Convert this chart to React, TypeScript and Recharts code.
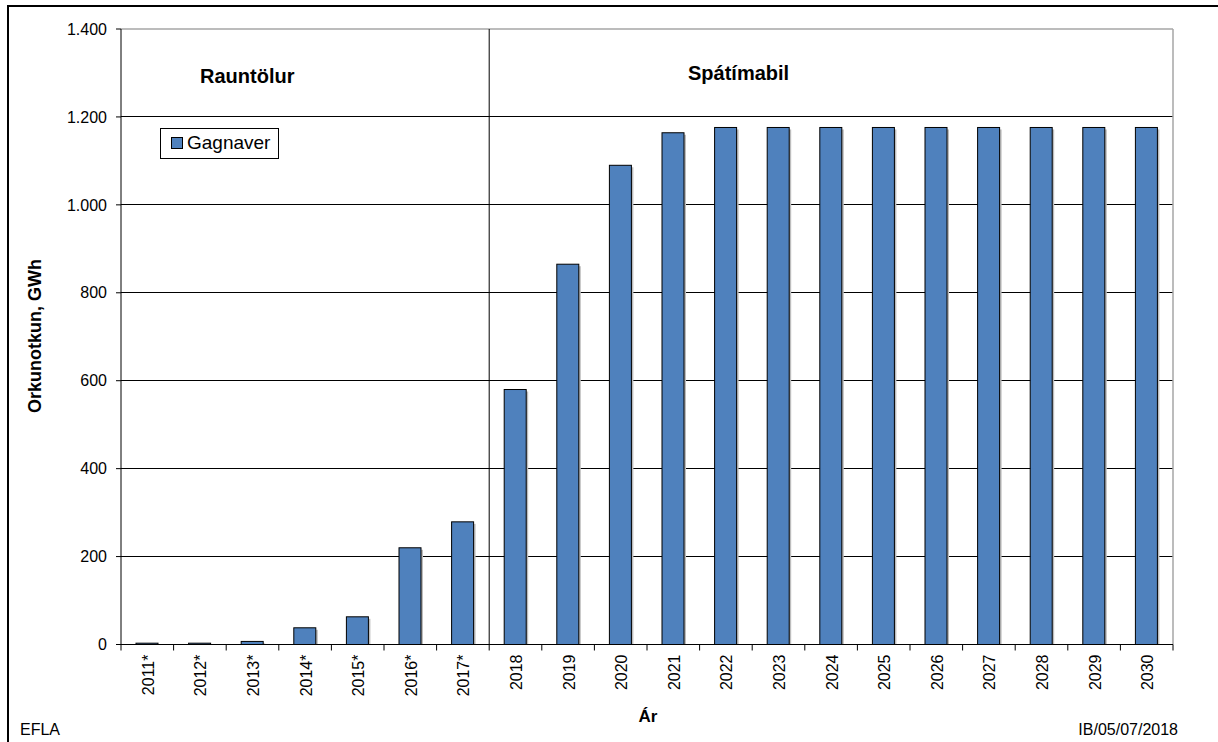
import React from 'react';
import { BarChart, Bar, XAxis, YAxis, CartesianGrid, Legend, ReferenceLine } from 'recharts';

const years = [
  '2011*', '2012*', '2013*', '2014*', '2015*', '2016*', '2017*',
  '2018', '2019', '2020', '2021', '2022', '2023', '2024',
  '2025', '2026', '2027', '2028', '2029', '2030',
];
const gagnaver = [
  3, 3, 7, 38, 63, 220, 279,
  580, 865, 1090, 1164, 1176, 1176, 1176,
  1176, 1176, 1176, 1176, 1176, 1176,
];
const yTicks = [0, 200, 400, 600, 800, 1000, 1200, 1400];

const data = years.map((year, i) => ({ year, gagnaver: gagnaver[i] }));

const W = 1218;
const H = 742;
const PLOT_LEFT = 121;
const PLOT_RIGHT = 45;
const BAND = (W - PLOT_LEFT - PLOT_RIGHT) / years.length;
const FONT = '"Liberation Sans", Arial, sans-serif';
const BLUE = '#4F81BD';

const fmt = (v: number) => String(v).replace(/\B(?=(\d{3})+(?!\d))/g, '.');

const XTick = (props: any) => {
  const { x, y, payload, index } = props;
  const axisY = y - 8;
  const half = BAND / 2;
  return (
    <g>
      <line x1={x - half} x2={x - half} y1={axisY} y2={axisY + 6} stroke="#000" />
      {index === years.length - 1 && (
        <line x1={x + half} x2={x + half} y1={axisY} y2={axisY + 6} stroke="#000" />
      )}
      <text
        transform={`translate(${x + 1},${y + 2}) rotate(-90)`}
        textAnchor="end"
        dominantBaseline="central"
        fontSize={16}
        fill="#000"
      >
        {payload.value}
      </text>
    </g>
  );
};

const BarShape = (props: any) => {
  const { x, y, width, height } = props;
  if (!height || height <= 0) return null;
  return (
    <g>
      <rect x={x + 2} y={y + 2} width={width} height={Math.max(height - 2, 0)} fill="#bdbdbd" />
      <rect x={x} y={y} width={width} height={height} fill={BLUE} stroke="#000" strokeWidth={1} />
    </g>
  );
};

const LegendBox = () => (
  <div
    style={{
      border: '1px solid #000',
      background: '#fff',
      padding: '2px 8px 3px 10px',
      display: 'flex',
      alignItems: 'center',
      fontSize: 19,
      color: '#000',
      lineHeight: '24px',
    }}
  >
    <span
      style={{
        display: 'inline-block',
        width: 10,
        height: 10,
        background: BLUE,
        border: '1px solid #000',
        marginRight: 4,
      }}
    />
    Gagnaver
  </div>
);

const App = () => {
  return (
    <div
      style={{
        position: 'absolute',
        left: 0,
        top: 0,
        width: W,
        height: H,
        overflow: 'hidden',
        background: '#fff',
        fontFamily: FONT,
      }}
    >
      <div
        style={{
          position: 'absolute',
          left: 7,
          top: 5,
          width: 1400,
          height: 1000,
          border: '2px solid #000',
        }}
      />
      <div style={{ position: 'absolute', left: 0, top: 0 }}>
        <BarChart
          width={W}
          height={H}
          data={data}
          margin={{ top: 29, right: PLOT_RIGHT, bottom: 37.5, left: PLOT_LEFT - 70 }}
          barSize={22}
        >
          <CartesianGrid
            vertical={false}
            horizontalValues={[200, 400, 600, 800, 1000, 1200]}
            stroke="#000"
            shapeRendering="crispEdges"
          />
          <XAxis
            dataKey="year"
            interval={0}
            height={60}
            tickLine={false}
            axisLine={{ stroke: '#000' }}
            tick={<XTick />}
          />
          <YAxis
            width={70}
            domain={[0, 1400]}
            ticks={yTicks}
            tickFormatter={fmt}
            tickSize={5}
            tickMargin={9}
            axisLine={{ stroke: '#000' }}
            tickLine={{ stroke: '#000' }}
            tick={{ fill: '#000', fontSize: 16 }}
          />
          <ReferenceLine y={1400} stroke="#a6a6a6" strokeWidth={1.5} />
          <ReferenceLine x="2030" position="end" stroke="#a6a6a6" strokeWidth={1.5} />
          <ReferenceLine x="2018" position="start" stroke="#000" />
          <Bar dataKey="gagnaver" name="Gagnaver" fill={BLUE} shape={<BarShape />} isAnimationActive={false} />
          <Legend
            layout="vertical"
            align="center"
            verticalAlign="middle"
            content={<LegendBox />}
            wrapperStyle={{ left: 160, top: 128, width: 'auto', height: 'auto' }}
          />
        </BarChart>
      </div>
      <div style={{ position: 'absolute', left: 200, top: 66, fontSize: 20, fontWeight: 'bold', lineHeight: '20px' }}>
        Rauntölur
      </div>
      <div style={{ position: 'absolute', left: 688, top: 63, fontSize: 20, fontWeight: 'bold', lineHeight: '20px' }}>
        Spátímabil
      </div>
      <div
        style={{
          position: 'absolute',
          left: 35,
          top: 336,
          transform: 'translate(-50%, -50%) rotate(-90deg)',
          whiteSpace: 'nowrap',
          fontSize: 18,
          fontWeight: 'bold',
        }}
      >
        Orkunotkun, GWh
      </div>
      <div
        style={{
          position: 'absolute',
          left: 648,
          top: 708,
          transform: 'translateX(-50%)',
          fontSize: 17,
          fontWeight: 'bold',
          lineHeight: '17px',
        }}
      >
        Ár
      </div>
      <div style={{ position: 'absolute', left: 20, top: 722, fontSize: 16, lineHeight: '16px' }}>EFLA</div>
      <div style={{ position: 'absolute', right: 40, top: 722, fontSize: 16, lineHeight: '16px' }}>IB/05/07/2018</div>
    </div>
  );
};

export default App;
